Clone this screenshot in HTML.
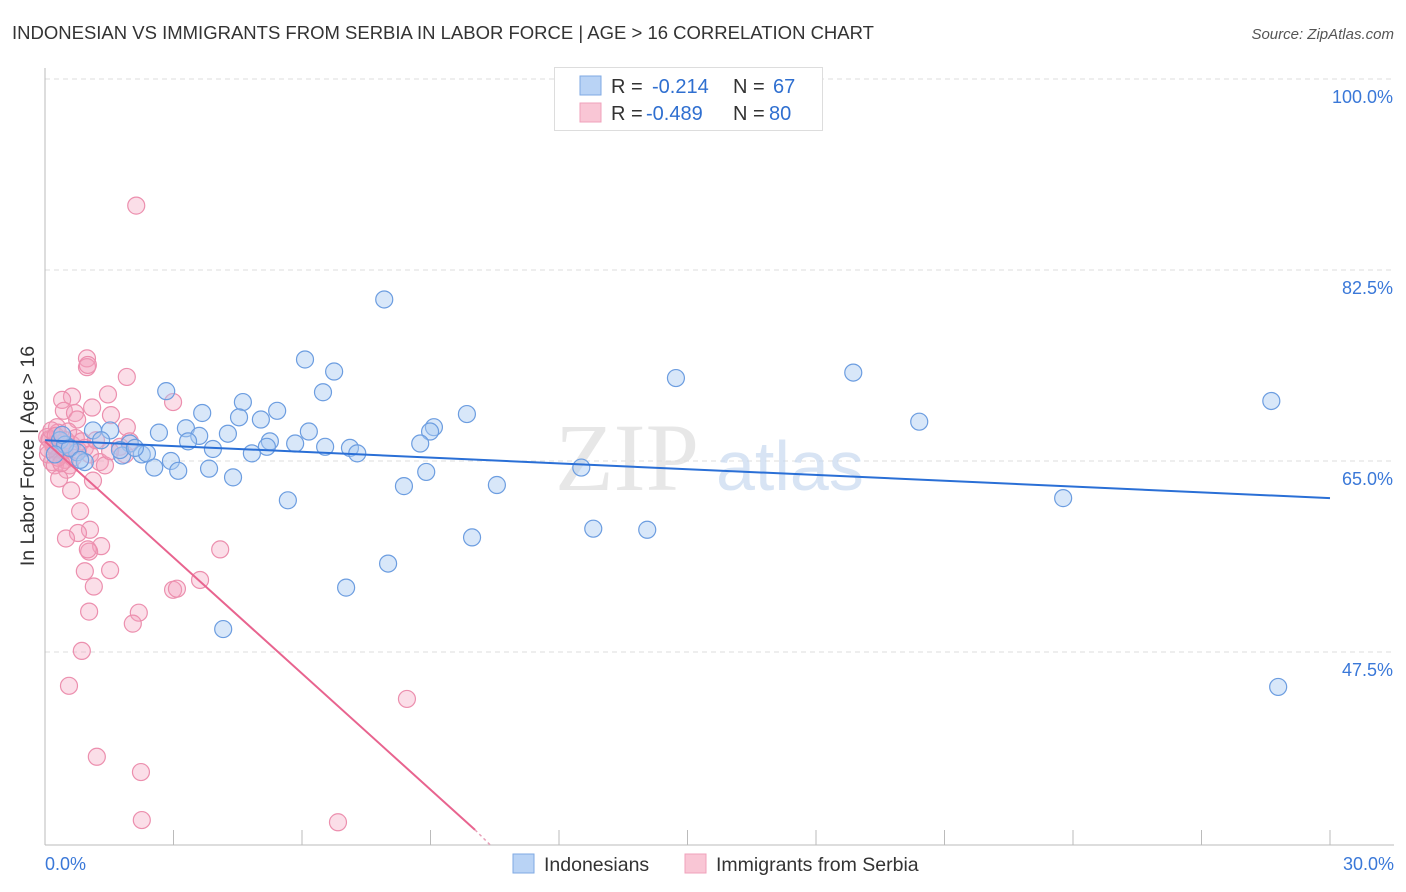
<!DOCTYPE html>
<html><head><meta charset="utf-8"><style>
body{margin:0;background:#fff;font-family:"Liberation Sans",sans-serif;}
#wrap{position:relative;width:1406px;height:892px;overflow:hidden;}
</style></head><body>
<div id="wrap">
<svg id="svg" width="1406" height="892" xmlns="http://www.w3.org/2000/svg">
<text x="12" y="39" font-size="18.5" fill="#333">INDONESIAN VS IMMIGRANTS FROM SERBIA IN LABOR FORCE | AGE &gt; 16 CORRELATION CHART</text>
<text x="1394" y="39" font-size="15" fill="#555" font-style="italic" text-anchor="end">Source: ZipAtlas.com</text>
<text transform="translate(34,456) rotate(-90)" font-size="19.5" fill="#333" text-anchor="middle">In Labor Force | Age &gt; 16</text>
<g id="grid"></g>
<g id="watermark">
<text x="555" y="490" font-size="96" font-family="Liberation Serif,serif" fill="#ddd" opacity="0.7">ZIP</text>
<text x="716" y="490" font-size="70" fill="#c8daf0" opacity="0.7">atlas</text>
</g>
<g id="axes"></g>
<g id="pts"></g>
<g id="trends"></g>
<g>
<rect x="554.5" y="67.5" width="268" height="63" fill="#fff" stroke="#ddd"/>
<rect x="580" y="76" width="21" height="19" fill="#b9d3f5" stroke="#7fa9e3"/>
<rect x="580" y="103" width="21" height="19" fill="#f9c6d5" stroke="#f0a1bb"/>
<text x="611" y="93" font-size="20" fill="#333">R = </text><text x="652" y="93" font-size="20" fill="#2f6fd0">-0.214</text>
<text x="733" y="93" font-size="20" fill="#333">N = </text><text x="773" y="93" font-size="20" fill="#2f6fd0">67</text>
<text x="611" y="120" font-size="20" fill="#333">R = </text><text x="646" y="120" font-size="20" fill="#2f6fd0">-0.489</text>
<text x="733" y="120" font-size="20" fill="#333">N = </text><text x="769" y="120" font-size="20" fill="#2f6fd0">80</text>
</g>
<g>
<rect x="513" y="854" width="21" height="19" fill="#b9d3f5" stroke="#7fa9e3"/>
<text x="544" y="871" font-size="19.5" fill="#333">Indonesians</text>
<rect x="685" y="854" width="21" height="19" fill="#f9c6d5" stroke="#f0a1bb"/>
<text x="716" y="871" font-size="19.5" fill="#333">Immigrants from Serbia</text>
</g>
</svg>
</div>
<script>
const yTicks=[100,82.5,65,47.5];
const yTickLabels=["100.0%","82.5%","65.0%","47.5%"];
const xTickLabels=["0.0%","30.0%"];
const blueX=[7.92,6.07,6.75,2.83,6.49,14.73,18.87,28.63,4.62,3.67,5.42,4.53,5.04,9.85,20.41,9.08,8.99,2.66,3.29,3.60,4.27,3.34,6.16,1.12,1.52,1.31,1.98,5.25,5.18,5.84,7.12,7.29,6.54,8.76,4.83,3.92,2.26,1.80,2.38,0.75,0.93,2.94,2.55,3.11,3.83,4.39,8.90,12.52,8.38,10.55,5.67,23.77,12.80,14.06,9.97,8.01,7.03,4.16,28.79,0.35,0.47,0.58,0.23,0.40,0.82,1.75,2.10];
const blueY=[79.8,74.3,73.2,71.4,71.3,72.6,73.1,70.5,70.4,69.4,69.6,69.0,68.8,69.3,68.6,68.1,67.7,67.6,68.0,67.3,67.5,66.8,67.7,67.8,67.8,66.9,66.6,66.8,66.3,66.6,66.2,65.7,66.3,66.6,65.7,66.1,65.6,65.5,65.7,65.8,64.9,65.0,64.4,64.1,64.3,63.5,64.0,64.4,62.7,62.8,61.4,61.6,58.8,58.7,58.0,55.6,53.4,49.6,44.3,66.9,66.5,66.2,65.6,67.4,65.1,66.0,66.2];
const pinkX=[2.13,0.98,0.98,1.00,1.91,1.47,0.63,0.40,2.99,1.10,0.44,0.70,1.54,0.75,1.91,0.28,0.54,0.05,0.12,0.19,0.26,0.35,0.47,0.58,0.16,0.07,0.30,0.49,0.63,0.77,0.40,0.23,0.51,0.72,0.86,0.93,1.05,1.19,1.28,1.40,1.75,1.87,1.98,1.52,0.61,1.12,0.33,0.82,1.05,0.77,0.49,1.31,1.03,1.00,4.09,1.52,0.93,3.62,1.14,2.99,3.08,2.19,1.03,2.05,0.86,0.56,8.45,1.21,2.24,2.26,6.84,0.10,0.20,0.30,0.15,0.45,0.65,0.25,0.38,0.08];
const pinkY=[88.4,74.4,73.6,73.8,72.7,71.1,70.9,70.6,70.4,69.9,69.6,69.4,69.2,68.8,68.1,68.1,67.7,67.2,66.9,66.5,66.0,65.6,65.1,64.6,64.9,65.6,67.6,66.9,66.5,66.0,66.2,64.6,64.2,67.1,66.8,66.2,65.6,66.9,64.9,64.6,66.3,65.6,66.8,65.9,62.3,63.2,63.4,60.4,58.7,58.4,57.9,57.2,56.7,56.9,56.9,55.0,54.9,54.1,53.5,53.2,53.3,51.1,51.2,50.1,47.6,44.4,43.2,37.9,36.5,32.1,31.9,67.0,66.4,65.3,67.8,66.0,65.3,67.3,64.8,66.1];
const blueTrend=[[0,66.9],[30,61.6]];
const pinkTrend=[[0,66.8],[10.04,31.2]];
const pinkTrendDash=[[10.04,31.2],[10.4,29.8]];
const X=v=>45+v/30*1285;
const Y=v=>79+(100-v)*191/17.5;
const NS="http://www.w3.org/2000/svg";
function mk(tag,attrs,parent){const e=document.createElementNS(NS,tag);for(const k in attrs)e.setAttribute(k,attrs[k]);document.getElementById(parent).appendChild(e);return e;}
yTicks.forEach((t,i)=>{
 const l=mk('line',{x1:45,x2:1394,y1:Y(t),y2:Y(t),stroke:'#ddd','stroke-dasharray':'5,4'},'grid');
 
 
 const tx=mk('text',{x:1393,y:Y(t)+24,'font-size':18,fill:'#3a78d8','text-anchor':'end'},'grid');
 tx.textContent=yTickLabels[i];
 
 
});
const ax=mk('line',{x1:45,x2:45,y1:68,y2:845,stroke:'#bbb'},'axes');


const bx=mk('line',{x1:45,x2:1394,y1:845,y2:845,stroke:'#bbb'},'axes');


for(let i=0;i<=10;i++){
 const t=mk('line',{x1:X(i*3),x2:X(i*3),y1:830,y2:845,stroke:'#bbb'},'axes');
 
 
}
[[0,'start',45],[30,'end',1394]].forEach((d,i)=>{
 const t=mk('text',{x:d[2],y:870,'font-size':18,fill:'#3a78d8','text-anchor':d[1]},'axes');
 t.textContent=xTickLabels[i];
 
 
});
pinkX.forEach((v,i)=>{
 const c=mk('circle',{cx:X(v),cy:Y(pinkY[i]),r:8.5,fill:'rgba(244,160,188,0.35)',stroke:'#ec8fae','stroke-width':1.2},'pts');
 
 
});
blueX.forEach((v,i)=>{
 const c=mk('circle',{cx:X(v),cy:Y(blueY[i]),r:8.5,fill:'rgba(168,202,242,0.45)',stroke:'#6c9de0','stroke-width':1.2},'pts');
 
 
});
const bl=mk('line',{x1:X(blueTrend[0][0]),y1:Y(blueTrend[0][1]),x2:X(blueTrend[1][0]),y2:Y(blueTrend[1][1]),stroke:'#2a6fd6','stroke-width':2},'trends');


const pl=mk('line',{x1:X(pinkTrend[0][0]),y1:Y(pinkTrend[0][1]),x2:X(pinkTrend[1][0]),y2:Y(pinkTrend[1][1]),stroke:'#e8648f','stroke-width':2},'trends');


const pd=mk('line',{x1:X(pinkTrendDash[0][0]),y1:Y(pinkTrendDash[0][1]),x2:X(pinkTrendDash[1][0]),y2:Y(pinkTrendDash[1][1]),stroke:'#e8a0b8','stroke-width':1.5,'stroke-dasharray':'3,3'},'trends');


</script>
</body></html>
